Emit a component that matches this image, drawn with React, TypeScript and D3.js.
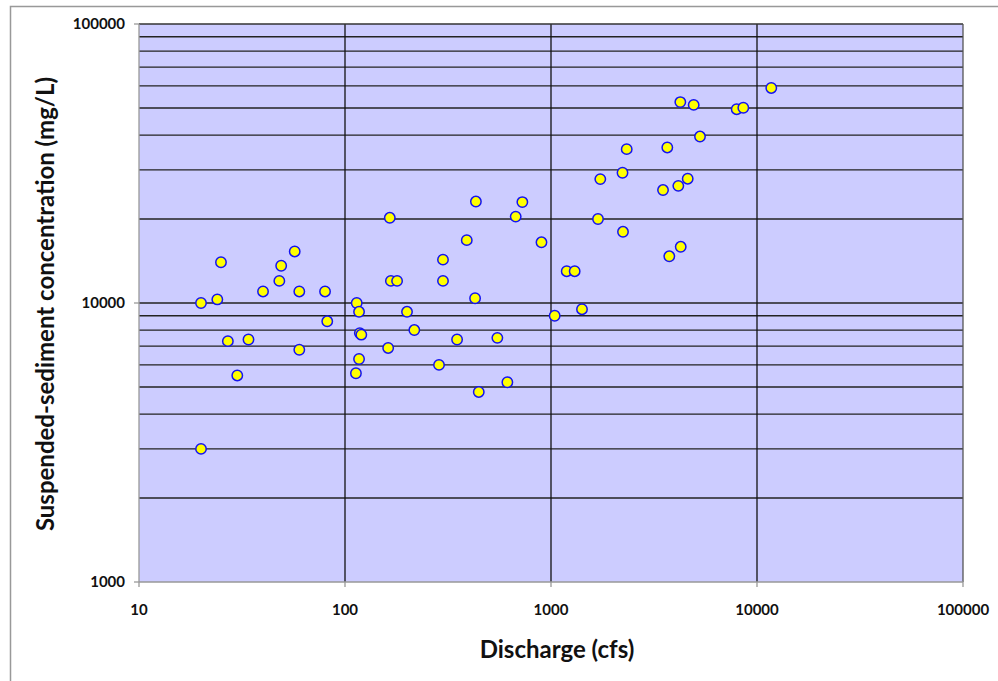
import * as d3 from "d3";

// discharge (cfs) and suspended-sediment concentration (mg/L)
const discharge = [
  20, 24, 25, 20, 27, 30, 34, 40, 48, 49, 57, 60, 60, 80, 82,
  114, 117, 118, 120, 117, 113, 165, 167, 179, 162, 200, 217, 299, 299, 286,
  350, 390, 432, 428, 446, 549, 614, 674, 726, 899,
  1042, 1192, 1303, 1414, 1691, 1735, 2224, 2236, 2331, 3498, 3669, 3752, 4150,
  4244, 4263, 4609, 4928, 5288, 7970, 8580, 11730,
];
const concentration = [
  10000, 10300, 14000, 3000, 7300, 5500, 7400, 11000, 12000, 13600, 15300, 11000, 6800, 11000, 8600,
  10000, 9300, 7800, 7700, 6300, 5600, 20200, 12000, 12000, 6900, 9300, 8000, 14300, 12000, 6000,
  7400, 16800, 23100, 10400, 4800, 7500, 5200, 20400, 23000, 16500,
  9000, 13000, 13000, 9500, 20000, 27800, 29300, 18000, 35600, 25400, 36100, 14700, 26300,
  52500, 15900, 27900, 51300, 39500, 49500, 50100, 59000,
];

const xTicks = [10, 100, 1000, 10000, 100000];
const yTicks = [1000, 10000, 100000];
const yGrid = [
  2000, 3000, 4000, 5000, 6000, 7000, 8000, 9000, 10000,
  20000, 30000, 40000, 50000, 60000, 70000, 80000, 90000,
];

const W = 998;
const H = 681;
const left = 139;
const right = 963;
const top = 24;
const bottom = 582;

const x = d3.scaleLog().domain([10, 100000]).range([left, right]);
const y = d3.scaleLog().domain([1000, 100000]).range([bottom, top]);

const font = "Lato, 'Open Sans', sans-serif";

export default function App() {
  const points = discharge.map((d, i) => ({ q: d, c: concentration[i] }));
  return (
    <svg
      width={W}
      height={H}
      style={{ position: "absolute", left: 0, top: 0, background: "#fff" }}
      fontFamily={font}
    >
      <rect x={10.5} y={6.5} width={1000} height={700} fill="#fff" stroke="#999" strokeWidth={1.5} />
      <rect x={left} y={top} width={right - left} height={bottom - top} fill="#CCCCFF" />
      {yGrid.map((v) => (
        <line key={"h" + v} x1={left} x2={right} y1={y(v)} y2={y(v)} stroke="#222" strokeWidth={1.3} />
      ))}
      {xTicks.slice(1, -1).map((v) => (
        <line key={"v" + v} x1={x(v)} x2={x(v)} y1={top} y2={bottom} stroke="#111" strokeWidth={1.3} />
      ))}
      <line x1={left} x2={right} y1={top} y2={top} stroke="#333" strokeWidth={1.3} />
      <line x1={right} x2={right} y1={top} y2={bottom} stroke="#555" strokeWidth={1.3} />
      <line x1={left} x2={left} y1={top} y2={bottom} stroke="#999" strokeWidth={1.3} />
      <line x1={left} x2={right} y1={bottom} y2={bottom} stroke="#999" strokeWidth={1.3} />
      {xTicks.map((v) => (
        <g key={"xt" + v}>
          <line x1={x(v)} x2={x(v)} y1={bottom} y2={bottom + 5} stroke="#999" strokeWidth={1.3} />
          <text x={x(v)} y={615} textAnchor="middle" fontSize={15} fontWeight="bold" fill="#111">
            {v}
          </text>
        </g>
      ))}
      {yTicks.map((v) => (
        <g key={"yt" + v}>
          <line x1={left - 5} x2={left} y1={y(v)} y2={y(v)} stroke="#999" strokeWidth={1.3} />
          <text x={125} y={y(v) + 5} textAnchor="end" fontSize={15} fontWeight="bold" fill="#111">
            {v}
          </text>
        </g>
      ))}
      {points.map((p, i) => (
        <circle
          key={i}
          cx={x(p.q)}
          cy={y(p.c)}
          r={5.2}
          fill="#FFFF00"
          stroke="#1414F0"
          strokeWidth={1.5}
        />
      ))}
      <text x={557} y={658} textAnchor="middle" fontSize={24} fontWeight="bold" fill="#111">
        Discharge (cfs)
      </text>
      <text
        transform={`translate(54, 304) rotate(-90)`}
        textAnchor="middle"
        fontSize={24}
        fontWeight="bold"
        fill="#111"
      >
        Suspended-sediment concentration (mg/L)
      </text>
    </svg>
  );
}
